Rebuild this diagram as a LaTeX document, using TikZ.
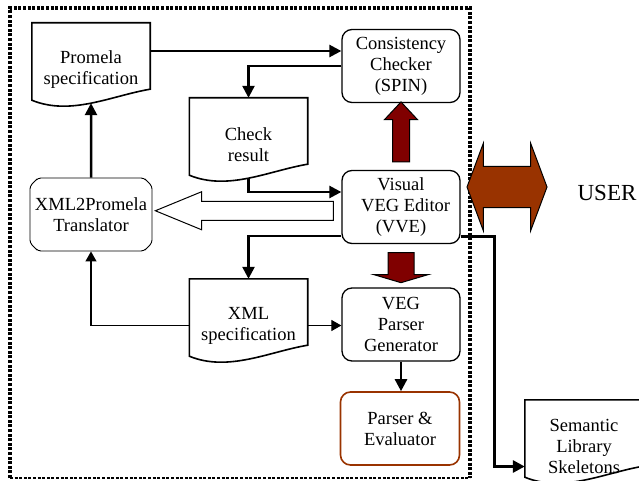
\documentclass[tikz,border=0pt]{standalone}
\usepackage{fontspec}
\setmainfont{Liberation Serif}
\usetikzlibrary{arrows.meta,shapes.misc,shapes.arrows,calc}

\definecolor{darkred}{HTML}{800000}
\definecolor{rust}{HTML}{993300}

% document outline with wavy bottom
\newcommand{\docshape}[1]{%
    \draw[docline] (#1.north west) -- (#1.north east) -- ([yshift=27pt]#1.south east)
        .. controls +(-39pt,-6.6pt) and +(39pt,-16pt) .. ([yshift=16pt]#1.south west)
        coordinate[pos=0.5] (#1-w) -- cycle;}

\begin{document}
\begin{tikzpicture}[x=1pt, y=-1pt,
        font=\fontsize{18.5}{21}\selectfont,
        box/.style={draw, rounded corners=10pt, line width=1.3pt, minimum width=118pt, minimum height=73pt, align=center, inner sep=0pt},
        doc/.style={minimum width=118pt, minimum height=93pt, align=center, inner sep=0pt},
        docline/.style={line width=1.6pt},
        arr/.style={line width=2.5pt, -{Triangle[length=12pt,width=12pt]}},
        thinarr/.style={line width=1.2pt, -{Triangle[length=10pt,width=11pt]}},
        blockarr/.style={draw, line width=1pt, inner sep=0pt}]

        \useasboundingbox (0, 0) rectangle (639, 481);

        % Frame
        \draw[line width=3.2pt, dash pattern=on 3pt off 1.6pt] (10, 478) -- (10, 8) -- (470, 8) -- (470, 478);
        \draw[line width=1.4pt, dash pattern=on 3pt off 1.6pt] (10, 478) -- (470, 478);

        % Documents
        \node[doc] (ps) at (91, 69.5) {Promela\\specification};
        \node[doc] (cr) at (248.5, 144.5) {Check\\result};
        \node[doc] (xml) at (248.5, 325.5) {XML\\specification};
        \node[doc] (sl) at (584, 446.5) {Semantic\\Library\\Skeletons};
        \docshape{ps}
        \docshape{cr}
        \docshape{xml}
        \docshape{sl}

        % Boxes
        \node[box] (cc) at (401, 66) {Consistency\\Checker\\(SPIN)};
        \node[box] (vve) at (401, 207) {Visual\\\ \ VEG Editor\\(VVE)};
        \node[box] (vpg) at (401, 324.5) {VEG\\Parser\\Generator};
        \node[box, draw=rust, line width=1.6pt, minimum width=119pt] (pe) at (400, 428.5) {Parser \&\\Evaluator};
        \node[draw, line width=0.9pt, chamfered rectangle, chamfered rectangle xsep=5pt, rounded corners=3pt,
            minimum width=118pt, minimum height=73pt, inner sep=0pt, align=center] (tr) at (91, 214.5)
            {XML2Promela\\Translator};
        \node (user) at (607, 193) {\fontsize{23}{26}\selectfont USER};

        % Block arrows
        \node[blockarr, single arrow, fill=darkred, minimum height=60pt, minimum width=32pt, inner xsep=8pt,
            single arrow head extend=8pt, single arrow tip angle=86, shape border rotate=90]
            (up) at ($(cc.south)!0.5!(vve.north)$) {};
        \node[blockarr, single arrow, fill=darkred, minimum height=30pt, minimum width=54pt, inner xsep=12.5pt,
            single arrow head extend=14.5pt, single arrow tip angle=147, shape border rotate=270]
            (down) at ($(vve.south)!0.5!(vpg.north)$) {};
        \node[blockarr, single arrow, fill=white, minimum height=178pt, minimum width=37pt, inner ysep=9pt,
            single arrow head extend=9.5pt, single arrow tip angle=44.7, shape border rotate=180]
            (gen) at ([xshift=9pt]$(tr.east)!0.5!(vve.west)$) {};
        \node[blockarr, double arrow, fill=rust, minimum height=80pt, minimum width=86pt, inner ysep=20pt,
            double arrow head extend=23pt, double arrow tip angle=139]
            (io) at (507, 187) {};

        % Connect Nodes
        \draw[arr] ([yshift=18.5pt]ps.east) -- ([yshift=18.5pt]ps.east -| cc.west);
        \draw[arr] (cc.west) -| (cr.north);
        \draw[arr] (cr-w) |- ([yshift=15pt]vve.west);
        \draw[arr] ([yshift=-29pt]vve.west) -| (xml.north);
        \draw[thinarr] (xml.west) -| (tr.south);
        \draw[thinarr] (xml.east) -- (xml.east -| vpg.west);
        \draw[arr] (tr.north) -- (ps-w);
        \draw[arr] (vpg.south) -- (vpg.south |- pe.north);
        \coordinate (turn) at (494, 236);
        \draw[arr, line width=3pt] ([yshift=-29pt]vve.east) -- (turn) |- ([yshift=-20pt]sl.west);
\end{tikzpicture}
\end{document}
